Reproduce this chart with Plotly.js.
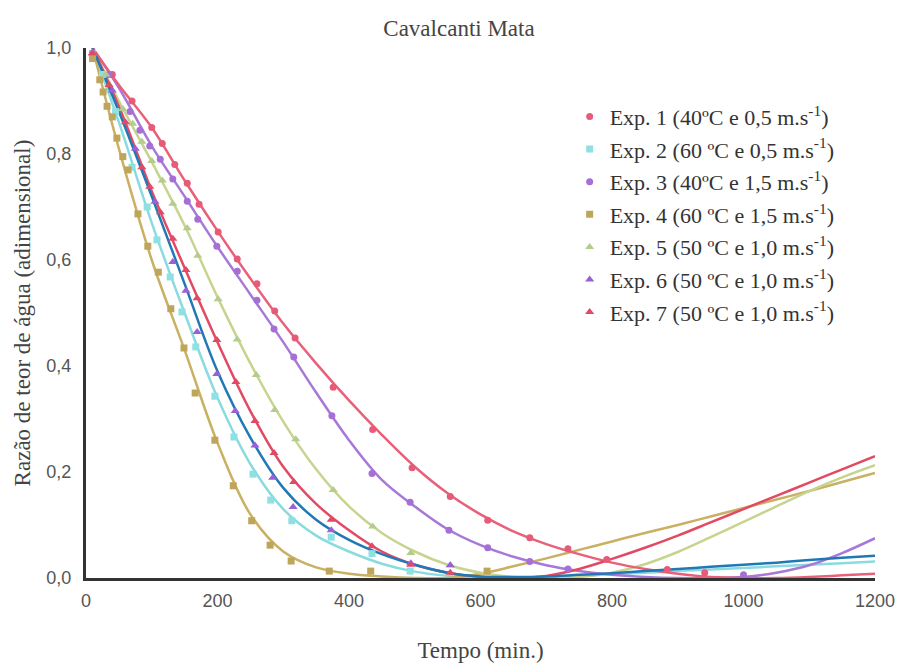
<!DOCTYPE html>
<html>
<head>
<meta charset="utf-8">
<script src="https://cdn.plot.ly/plotly-3.0.1.min.js"></script>
<style>html,body{margin:0;padding:0;background:#fff;}#chart{width:900px;height:666px;}</style>
</head>
<body>
<div id="chart"></div>
<script>
// ---- data ----
const seriesNames = [
  'Exp. 1 (40ºC e 0,5 m.s<sup>-1</sup>)',
  'Exp. 2 (60 ºC e 0,5 m.s<sup>-1</sup>)',
  'Exp. 3 (40ºC e 1,5 m.s<sup>-1</sup>)',
  'Exp. 4 (60 ºC e 1,5 m.s<sup>-1</sup>)',
  'Exp. 5 (50 ºC e 1,0 m.s<sup>-1</sup>)',
  'Exp. 6 (50 ºC e 1,0 m.s<sup>-1</sup>)',
  'Exp. 7 (50 ºC e 1,0 m.s<sup>-1</sup>)'
];

// observed points
const t1 = [10, 40, 70, 100, 116, 135, 154, 172, 201, 230, 260, 287, 318, 376, 436, 496, 554, 611, 675, 733, 792, 884, 941];
const y1 = [0.99, 0.95, 0.9, 0.85, 0.82, 0.78, 0.745, 0.705, 0.653, 0.602, 0.555, 0.504, 0.453, 0.36, 0.28, 0.208, 0.154, 0.109, 0.076, 0.055, 0.035, 0.016, 0.01];
const t2 = [10, 25, 45, 70, 93, 108, 128, 146, 167, 196, 225, 254, 281, 313, 373, 435, 493];
const y2 = [0.99, 0.95, 0.88, 0.775, 0.70, 0.638, 0.568, 0.502, 0.436, 0.343, 0.266, 0.196, 0.147, 0.108, 0.077, 0.046, 0.013];
const t3 = [10, 35, 67, 82, 97, 113, 132, 154, 170, 199, 230, 260, 286, 316, 374, 435, 493, 552, 611, 675, 733, 1000];
const y3 = [0.99, 0.95, 0.88, 0.845, 0.815, 0.79, 0.753, 0.711, 0.677, 0.626, 0.579, 0.524, 0.47, 0.417, 0.306, 0.197, 0.143, 0.09, 0.057, 0.031, 0.017, 0.006];
const t4 = [10, 21, 26, 32, 40, 47, 56, 64, 79, 94, 110, 129, 149, 166, 196, 224, 252, 280, 312, 370, 433, 610];
const y4 = [0.98, 0.94, 0.917, 0.89, 0.87, 0.83, 0.795, 0.77, 0.687, 0.626, 0.577, 0.508, 0.434, 0.349, 0.26, 0.174, 0.108, 0.062, 0.032, 0.013, 0.013, 0.013];
const t5 = [10, 30, 56, 71, 85, 100, 116, 132, 154, 170, 201, 230, 259, 287, 319, 376, 436, 494, 554];
const y5 = [0.99, 0.95, 0.885, 0.857, 0.823, 0.787, 0.75, 0.706, 0.66, 0.608, 0.526, 0.45, 0.383, 0.317, 0.262, 0.166, 0.097, 0.047, 0.024];
const t6 = [10, 40, 75, 105, 132, 152, 169, 199, 227, 257, 284, 315, 373, 494, 554];
const y6 = [0.99, 0.92, 0.81, 0.71, 0.596, 0.542, 0.464, 0.385, 0.315, 0.25, 0.189, 0.134, 0.09, 0.028, 0.024];
const t7 = [10, 35, 60, 85, 97, 113, 132, 152, 169, 199, 228, 257, 286, 316, 373, 435, 494, 554];
const y7 = [0.99, 0.93, 0.86, 0.775, 0.738, 0.69, 0.64, 0.581, 0.528, 0.449, 0.37, 0.296, 0.236, 0.181, 0.11, 0.06, 0.025, 0.01];

// fitted curves, read at these times
const tFit = [10, 50, 100, 150, 200, 250, 300, 350, 400, 450, 500, 550, 600, 650, 700, 750, 800, 850, 900, 950, 1000, 1050, 1100, 1150, 1200];
const fit1 = [1.0, 0.93, 0.85, 0.75, 0.655, 0.565, 0.48, 0.405, 0.335, 0.27, 0.21, 0.16, 0.12, 0.088, 0.064, 0.045, 0.029, 0.017, 0.008, 0.002, 0.0, 0.0, 0.002, 0.005, 0.008];
const fit2 = [1.0, 0.86, 0.67, 0.5, 0.34, 0.215, 0.13, 0.08, 0.05, 0.027, 0.012, 0.004, 0.0, 0.0, 0.002, 0.004, 0.007, 0.01, 0.013, 0.016, 0.019, 0.022, 0.025, 0.028, 0.031];
const fit3 = [1.0, 0.925, 0.815, 0.72, 0.625, 0.535, 0.445, 0.35, 0.26, 0.185, 0.135, 0.092, 0.062, 0.04, 0.024, 0.013, 0.006, 0.002, 0.0, 0.0, 0.002, 0.01, 0.024, 0.047, 0.075];
const fit4 = [1.0, 0.81, 0.6, 0.43, 0.255, 0.12, 0.05, 0.02, 0.008, 0.003, 0.0, 0.0, 0.008, 0.022, 0.037, 0.053, 0.069, 0.085, 0.1, 0.116, 0.132, 0.148, 0.164, 0.181, 0.198];
const fit5 = [1.0, 0.9, 0.785, 0.665, 0.53, 0.405, 0.295, 0.205, 0.135, 0.085, 0.05, 0.025, 0.01, 0.002, 0.0, 0.002, 0.01, 0.026, 0.049, 0.077, 0.106, 0.135, 0.164, 0.19, 0.213];
const fit6 = [1.0, 0.88, 0.72, 0.555, 0.39, 0.265, 0.17, 0.11, 0.072, 0.045, 0.025, 0.01, 0.003, 0.002, 0.003, 0.006, 0.009, 0.013, 0.017, 0.021, 0.025, 0.029, 0.034, 0.038, 0.042];
const fit7 = [1.0, 0.89, 0.73, 0.585, 0.445, 0.315, 0.21, 0.14, 0.09, 0.05, 0.025, 0.01, 0.002, 0.0, 0.004, 0.017, 0.036, 0.057, 0.08, 0.105, 0.13, 0.155, 0.18, 0.205, 0.23];

const xTickVals = [0, 200, 400, 600, 800, 1000, 1200];
const xTickText = ['0', '200', '400', '600', '800', '1000', '1200'];
const yTickVals = [0, 0.2, 0.4, 0.6, 0.8, 1.0];
const yTickText = ['0,0', '0,2', '0,4', '0,6', '0,8', '1,0'];

// ---- styling ----
const pts = [[t1,y1],[t2,y2],[t3,y3],[t4,y4],[t5,y5],[t6,y6],[t7,y7]];
const fits = [fit1, fit2, fit3, fit4, fit5, fit6, fit7];
const markerColors = ['#e55b78', '#8ee0e2', '#a66fd6', '#bfa55a', '#b5cc8e', '#9b5fd8', '#e04a64'];
const lineColors   = ['#e8607a', '#8adbe0', '#a878d8', '#c9b063', '#c6d48e', '#2079b5', '#e24a64'];
const symbols = ['circle', 'square', 'circle', 'square', 'triangle-up', 'triangle-up', 'triangle-up'];
const lineOrder = [1, 3, 4, 2, 0, 6, 5];

const traces = [];
lineOrder.forEach(i => {
  traces.push({
    x: tFit, y: fits[i], type: 'scatter', mode: 'lines',
    line: {color: lineColors[i], width: 2.5, shape: 'spline', smoothing: 1},
    showlegend: false, legendgroup: 'g' + i, hoverinfo: 'skip', cliponaxis: true
  });
});
pts.forEach((p, i) => {
  traces.push({
    x: p[0], y: p[1], type: 'scatter', mode: 'markers', name: seriesNames[i],
    marker: {color: markerColors[i], symbol: symbols[i], size: symbols[i] === 'triangle-up' ? 8 : 7},
    legendgroup: 'g' + i, cliponaxis: false
  });
});

const serif = 'Liberation Serif, Times New Roman, serif';
const sans = 'Liberation Sans, Arial, sans-serif';

const layout = {
  width: 900, height: 666,
  margin: {l: 86, r: 25, t: 48, b: 88},
  paper_bgcolor: '#ffffff', plot_bgcolor: '#ffffff',
  title: {text: 'Cavalcanti Mata', font: {family: serif, size: 23, color: '#444'}, x: 0.51, xanchor: 'center', y: 0.958, yanchor: 'middle'},
  xaxis: {
    range: [0, 1200], showline: true, linecolor: '#333', linewidth: 3, mirror: false,
    showgrid: false, zeroline: false,
    tickmode: 'array', tickvals: xTickVals, ticktext: xTickText,
    ticks: 'outside', ticklen: 4, tickcolor: 'rgba(0,0,0,0)',
    tickfont: {family: sans, size: 18, color: '#555'},
    title: {text: 'Tempo (min.)', font: {family: serif, size: 23, color: '#444'}, standoff: 33}
  },
  yaxis: {
    range: [0, 1], showline: true, linecolor: '#333', linewidth: 3,
    showgrid: false, zeroline: false,
    tickmode: 'array', tickvals: yTickVals, ticktext: yTickText,
    ticks: 'outside', ticklen: 8, tickcolor: 'rgba(0,0,0,0)',
    tickfont: {family: sans, size: 18, color: '#555'},
    title: {text: 'Razão de teor de água (adimensional)', font: {family: serif, size: 23, color: '#444'}, standoff: 10}
  },
  legend: {
    x: 0.613, y: 0.91, xanchor: 'left', yanchor: 'top',
    font: {family: serif, size: 22, color: '#333'},
    bgcolor: 'rgba(0,0,0,0)', traceorder: 'grouped', tracegroupgap: 1,
    itemwidth: 30
  },
  showlegend: true
};

Plotly.newPlot('chart', traces, layout, {displayModeBar: false, staticPlot: true});
</script>
</body>
</html>
